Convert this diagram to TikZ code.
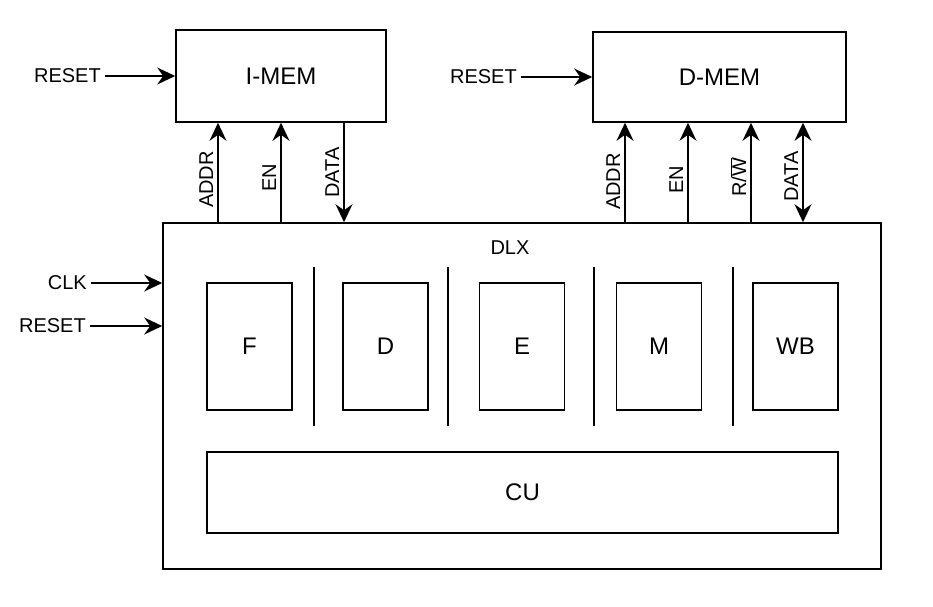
\documentclass[tikz,border=0pt]{standalone}
\usepackage{fontspec}
\setmainfont{Liberation Sans}
\usetikzlibrary{arrows.meta,positioning}

\begin{document}
\begin{tikzpicture}[x=1pt,y=1pt,yscale=-1,xscale=1,
  blk/.style={draw,line width=1.6pt,inner sep=0pt,font=\fontsize{24}{28}\selectfont},
  txt/.style={inner sep=4pt,font=\fontsize{20}{24}\selectfont},
  sig/.style={line width=1.6pt,-{Stealth[length=18pt,width=17pt,inset=6pt]}},
  bus/.style={line width=1.6pt,{Stealth[length=18pt,width=17pt,inset=6pt]}-{Stealth[length=18pt,width=17pt,inset=6pt]}},
  sep/.style={line width=1.6pt}]
\useasboundingbox (0,0) rectangle (933,606);

%Shape: Rectangle [I-MEM]
\node[blk,minimum width=210pt,minimum height=92pt] (imem) at (281,76) {I-MEM};
%Shape: Rectangle [D-MEM]
\node[blk,minimum width=253pt,minimum height=90pt] (dmem) at (719.5,77) {D-MEM};
%Shape: Rectangle [DLX]
\node[blk,minimum width=718pt,minimum height=346pt] (dlx) at (522,396) {};
%Shape: Rectangle [stages]
\node[blk,minimum width=85pt,minimum height=127pt] (fs) at (249.5,346.5) {F};
\node[blk,minimum width=85pt,minimum height=127pt] (ds) at (385.5,346.5) {D};
\node[blk,minimum width=85pt,minimum height=127pt] (es) at (522,346.5) {E};
\node[blk,minimum width=85pt,minimum height=127pt] (ms) at (659,346.5) {M};
\node[blk,minimum width=85pt,minimum height=127pt] (wbs) at (795.5,346.5) {WB};
%Shape: Rectangle [CU]
\node[blk,minimum width=631pt,minimum height=81pt] (cu) at (522.5,492.5) {CU};

% Text Node
\node[txt] (dlxlbl) at (510,248) {DLX};
% Text Node
\node[txt,anchor=east] (irst) at (105,76) {RESET};
% Text Node
\node[txt,anchor=east] (drst) at (521,77) {RESET};
% Text Node
\node[txt,anchor=east] (clk) at (91,283) {CLK};
% Text Node
\node[txt,anchor=east] (rst) at (90,326) {RESET};

% Separators
\draw[sep] (314,267) -- (314,426);
\draw[sep] (448,267) -- (448,426);
\draw[sep] (594,267) -- (594,426);
\draw[sep] (733,267) -- (733,426);

% Connection
\draw[sig] (irst) -- (irst -| imem.west);
\draw[sig] (drst) -- (drst -| dmem.west);
\draw[sig] (clk) -- (clk -| dlx.west);
\draw[sig] (rst) -- (rst -| dlx.west);
% Connection
\draw[sig] (dlx.north -| 218,0) -- node[txt,pos=0.43,rotate=90,anchor=south] (iaddr) {ADDR} (imem.south -| 218,0);
\draw[sig] (dlx.north -| 281,0) -- node[txt,pos=0.45,rotate=90,anchor=south] (ien) {EN} (imem.south -| 281,0);
\draw[sig] (imem.south -| 344,0) -- node[txt,pos=0.5,rotate=90,anchor=south] (idata) {DATA} (dlx.north -| 344,0);
% Connection
\draw[sig] (dlx.north -| 625,0) -- node[txt,pos=0.41,rotate=90,anchor=south] (daddr) {ADDR} (dmem.south -| 625,0);
\draw[sig] (dlx.north -| 688,0) -- node[txt,pos=0.43,rotate=90,anchor=south] (den) {EN} (dmem.south -| 688,0);
\draw[sig] (dlx.north -| 751,0) -- node[txt,pos=0.45,rotate=90,anchor=south] (drw) {R/$\overline{\mbox{W}}$} (dmem.south -| 751,0);
\draw[bus] (dlx.north -| 803,0) -- node[txt,pos=0.46,rotate=90,anchor=south] (ddata) {DATA} (dmem.south -| 803,0);

\end{tikzpicture}
\end{document}
